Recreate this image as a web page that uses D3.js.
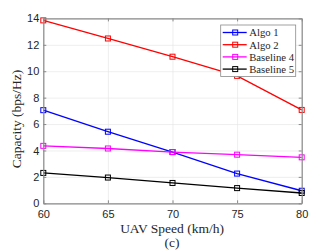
<!DOCTYPE html>
<html>
<head>
<meta charset="utf-8">
<script src="https://cdn.jsdelivr.net/npm/d3@7"></script>
<style>
  body { margin: 0; background: #fff; }
  svg { display: block; }
</style>
</head>
<body>
<svg width="334" height="251"></svg>
<script>
// values
var speeds = [60, 65, 70, 75, 80];
var algo1 = [7.05, 5.42, 3.88, 2.25, 0.95];
var algo2 = [13.85, 12.48, 11.1, 9.65, 7.07];
var baseline4 = [4.35, 4.15, 3.88, 3.68, 3.48];
var baseline5 = [2.3, 1.95, 1.54, 1.15, 0.78];
var seriesNames = ["Algo 1", "Algo 2", "Baseline 4", "Baseline 5"];
var seriesColors = ["#0000ff", "#ff0000", "#ff00ff", "#000000"];
var xTicks = [60, 65, 70, 75, 80];
var yTicks = [0, 2, 4, 6, 8, 10, 12, 14];

var series = [algo1, algo2, baseline4, baseline5].map(function (vals, i) {
    return {
        name: seriesNames[i],
        color: seriesColors[i],
        points: vals.map(function (v, j) { return { x: speeds[j], y: v }; })
    };
});

var pLeft = 43.3, pRight = 301.7, pTop = 18.4, pBottom = 203.3;

var x = d3.scaleLinear().domain([60, 80]).range([pLeft, pRight]);
var y = d3.scaleLinear().domain([0, 14]).range([pBottom, pTop]);

var svg = d3.select("svg");

// grid
svg.append("g")
    .attr("transform", "translate(0," + pBottom + ")")
    .call(d3.axisBottom(x).tickValues(xTicks).tickSize(-(pBottom - pTop)).tickFormat(""))
    .call(function (g) { g.select(".domain").remove(); })
    .selectAll("line").attr("stroke", "#e3e3e3").attr("stroke-width", 0.6);

svg.append("g")
    .attr("transform", "translate(" + pLeft + ",0)")
    .call(d3.axisLeft(y).tickValues(yTicks).tickSize(-(pRight - pLeft)).tickFormat(""))
    .call(function (g) { g.select(".domain").remove(); })
    .selectAll("line").attr("stroke", "#e3e3e3").attr("stroke-width", 0.6);

// lines
var line = d3.line()
    .x(function (d) { return x(d.x); })
    .y(function (d) { return y(d.y); });

var sg = svg.append("g")
    .selectAll("g")
    .data(series)
    .enter()
    .append("g");

sg.append("path")
    .attr("d", function (d) { return line(d.points); })
    .attr("fill", "none")
    .attr("stroke", function (d) { return d.color; })
    .attr("stroke-width", 1.3);

sg.selectAll("rect")
    .data(function (d) { return d.points.map(function (p) { return { p: p, color: d.color }; }); })
    .enter()
    .append("rect")
    .attr("x", function (d) { return x(d.p.x) - 2.5; })
    .attr("y", function (d) { return y(d.p.y) - 2.5; })
    .attr("width", 5)
    .attr("height", 5)
    .attr("fill", "none")
    .attr("stroke", function (d) { return d.color; })
    .attr("stroke-width", 1);

// axes box with inward ticks
var axisColor = "#8a8a8a";

var xAxis = svg.append("g")
    .attr("transform", "translate(0," + pBottom + ")")
    .call(d3.axisBottom(x).tickValues(xTicks).tickSizeInner(-3).tickSizeOuter(0).tickPadding(7));
var xAxisTop = svg.append("g")
    .attr("transform", "translate(0," + pTop + ")")
    .call(d3.axisTop(x).tickValues(xTicks).tickSizeInner(-3).tickSizeOuter(0).tickFormat(""));
var yAxis = svg.append("g")
    .attr("transform", "translate(" + pLeft + ",0)")
    .call(d3.axisLeft(y).tickValues(yTicks).tickSizeInner(-3).tickSizeOuter(0).tickPadding(4));
var yAxisRight = svg.append("g")
    .attr("transform", "translate(" + pRight + ",0)")
    .call(d3.axisRight(y).tickValues(yTicks).tickSizeInner(-3).tickSizeOuter(0).tickFormat(""));

[xAxis, xAxisTop, yAxis, yAxisRight].forEach(function (g) {
    g.select(".domain").attr("stroke", axisColor).attr("stroke-width", 1.2);
    g.selectAll(".tick line").attr("stroke", axisColor);
    g.selectAll("text")
        .attr("fill", "#262626")
        .attr("font-family", "Liberation Sans, Arial, sans-serif")
        .attr("font-size", "11px");
});

// axis labels
var serif = "Liberation Serif, DejaVu Serif, serif";

svg.append("text")
    .attr("x", 172)
    .attr("y", 233)
    .attr("text-anchor", "middle")
    .attr("font-family", serif)
    .attr("font-size", "13.5px")
    .attr("fill", "#262626")
    .text("UAV Speed (km/h)");

svg.append("text")
    .attr("x", 172)
    .attr("y", 246.5)
    .attr("text-anchor", "middle")
    .attr("font-family", serif)
    .attr("font-size", "13.5px")
    .attr("fill", "#262626")
    .text("(c)");

svg.append("text")
    .attr("transform", "translate(21,119) rotate(-90)")
    .attr("text-anchor", "middle")
    .attr("font-family", serif)
    .attr("font-size", "13.5px")
    .attr("fill", "#262626")
    .text("Capacity (bps/Hz)");

// legend
var legend = svg.append("g").attr("transform", "translate(220.7,25)");
legend.append("rect")
    .attr("width", 75)
    .attr("height", 51.5)
    .attr("fill", "#fff")
    .attr("stroke", "#8a8a8a")
    .attr("stroke-width", 0.8);

var item = legend.selectAll("g.item")
    .data(series)
    .enter()
    .append("g")
    .attr("class", "item")
    .attr("transform", function (d, i) { return "translate(0," + (7.5 + i * 12.2) + ")"; });

item.append("line")
    .attr("x1", 2).attr("x2", 26)
    .attr("stroke", function (d) { return d.color; })
    .attr("stroke-width", 1.3);
item.append("rect")
    .attr("x", 12).attr("y", -2.5)
    .attr("width", 5).attr("height", 5)
    .attr("fill", "none")
    .attr("stroke", function (d) { return d.color; });
item.append("text")
    .attr("x", 28.5)
    .attr("y", 3.8)
    .attr("font-family", serif)
    .attr("font-size", "10.7px")
    .attr("fill", "#262626")
    .text(function (d) { return d.name; });
</script>
</body>
</html>
